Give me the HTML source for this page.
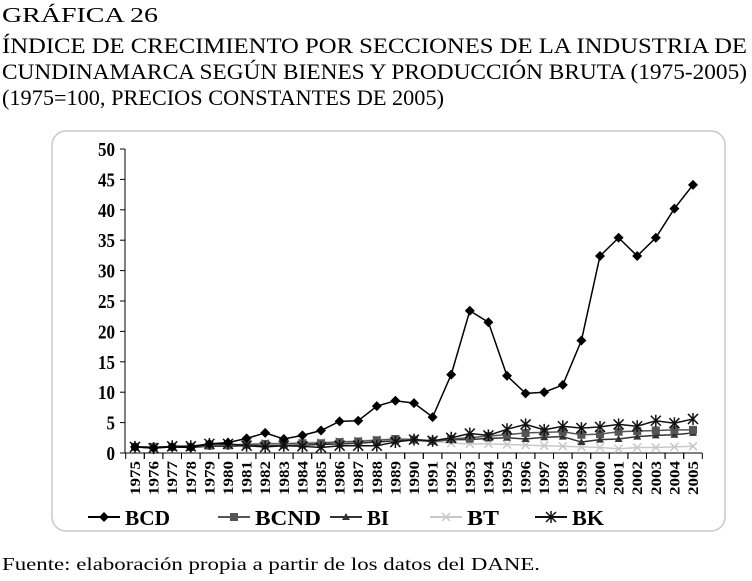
<!DOCTYPE html>
<html><head><meta charset="utf-8"><style>
html,body{margin:0;padding:0;background:#fff;}
svg{display:block;font-family:"Liberation Serif",serif;}
</style></head><body>
<svg id="chart" width="752" height="581" viewBox="0 0 752 581">
<text x="2" y="22" font-size="21" textLength="156" lengthAdjust="spacingAndGlyphs">GRÁFICA 26</text>
<text x="2" y="53" font-size="22" textLength="745" lengthAdjust="spacingAndGlyphs">ÍNDICE DE CRECIMIENTO POR SECCIONES DE LA INDUSTRIA DE</text>
<text x="2" y="79" font-size="22" textLength="745" lengthAdjust="spacingAndGlyphs">CUNDINAMARCA SEGÚN BIENES Y PRODUCCIÓN BRUTA (1975-2005)</text>
<text x="2" y="105" font-size="22" textLength="442" lengthAdjust="spacingAndGlyphs">(1975=100, PRECIOS CONSTANTES DE 2005)</text>
<rect x="52" y="131" width="673" height="400" rx="14" fill="#fff" stroke="#c8c8c8" stroke-width="1.5"/>
<g id="plot"></g>
<text x="2" y="570" font-size="18" textLength="538" lengthAdjust="spacingAndGlyphs">Fuente: elaboración propia a partir de los datos del DANE.</text>
</svg>
<script>
const years = [1975,1976,1977,1978,1979,1980,1981,1982,1983,1984,1985,1986,1987,1988,1989,1990,1991,1992,1993,1994,1995,1996,1997,1998,1999,2000,2001,2002,2003,2004,2005];
const yTicks = [0,5,10,15,20,25,30,35,40,45,50];
const seriesNames = ["BCD","BCND","BI","BT","BK"];
const bcd = [1,0.8,1,0.9,1.5,1.7,2.4,3.3,2.3,2.9,3.7,5.2,5.3,7.7,8.6,8.2,5.9,12.9,23.4,21.5,12.7,9.8,10,11.2,18.5,32.4,35.4,32.4,35.4,40.2,44.1];
const bcnd = [1,1,1,1,1.2,1.3,1.4,1.5,1.5,1.6,1.6,1.8,1.9,2.1,2.3,2.2,2.0,2.3,2.5,2.8,3.0,3.3,3.4,3.5,3.0,3.1,3.5,3.6,3.7,3.8,3.8];
const bi = [1,1,1,0.9,1.1,1.1,1.2,1.2,1.2,1.3,1.4,1.5,1.6,1.8,2.0,2.1,1.9,2.2,2.2,2.4,2.5,2.3,2.6,2.7,1.8,2.2,2.3,2.7,2.9,3.0,3.3];
const bt = [1,1,1.1,1.2,1.3,1.4,1.5,1.6,1.6,1.7,1.8,1.9,2.0,2.2,2.3,2.3,2.0,1.6,1.5,1.5,1.4,1.3,1.2,1.1,1.0,0.9,0.7,0.9,0.9,1.0,1.1];
const bk = [1,0.8,1.1,1.1,1.5,1.5,1.2,1.0,1.2,1.1,0.9,1.2,1.2,1.2,1.8,2.2,2.0,2.5,3.2,2.9,3.9,4.7,3.8,4.4,4.1,4.3,4.7,4.4,5.3,4.9,5.6];

const NS="http://www.w3.org/2000/svg";
const g=document.getElementById('plot');
function el(t,a,p){const e=document.createElementNS(NS,t);for(const k in a)e.setAttribute(k,a[k]);(p||g).appendChild(e);return e;}
const x0=135, dx=18.6, yBase=453, yTop=149;
const xs=i=>x0+i*dx;
const ys=v=>yBase-(v/50)*(yBase-yTop);

const ax=el('line',{x1:x0-10,y1:yTop,x2:x0-10,y2:yBase,stroke:'#000','stroke-width':1});


const bx=el('line',{x1:x0-10,y1:yBase,x2:xs(years.length-1)+9,y2:yBase,stroke:'#000','stroke-width':1});


yTicks.forEach(v=>{
  const t=el('line',{x1:x0-15,y1:ys(v),x2:x0-10,y2:ys(v),stroke:'#000'});
  
  
  const l=el('text',{x:x0-20,y:ys(v)+7,'font-size':20,'font-weight':'bold','text-anchor':'end',transform:`translate(${(x0-20)*0.15},0) scale(0.85,1)`});
  l.textContent=v;
  
  
});
years.forEach((yr,i)=>{
  for(const xx of [xs(i)-dx/2, xs(i)+dx/2]){
    const t=el('line',{x1:xx,y1:yBase,x2:xx,y2:yBase+6,stroke:'#000'});
    
    
  }
  const l=el('text',{x:0,y:0,'font-size':15,'font-weight':'bold','text-anchor':'end',textLength:34,lengthAdjust:'spacingAndGlyphs',transform:`translate(${xs(i)+5},461) rotate(-90)`});
  l.textContent=yr;
  
  
});

function marker(type,x,y,color,parent){
  let m;
  if(type==='diamond') m=el('path',{d:`M${x} ${y-5}L${x+5} ${y}L${x} ${y+5}L${x-5} ${y}Z`,fill:color},parent);
  else if(type==='square') m=el('rect',{x:x-4,y:y-4,width:8,height:8,fill:color},parent);
  else if(type==='triangle') m=el('path',{d:`M${x} ${y-4}L${x+4} ${y+3}L${x-4} ${y+3}Z`,fill:color},parent);
  else if(type==='x') m=el('path',{d:`M${x-4} ${y-4}L${x+4} ${y+4}M${x+4} ${y-4}L${x-4} ${y+4}`,stroke:color,'stroke-width':1.5},parent);
  else m=el('path',{d:`M${x-5} ${y-5}L${x+5} ${y+5}M${x+5} ${y-5}L${x-5} ${y+5}M${x} ${y-6}L${x} ${y+6}`,stroke:color,'stroke-width':1.5},parent);
  
  
}
const defs=[
 {name:'bt',data:bt,color:'#c8c8c8',mk:'x'},
 {name:'bi',data:bi,color:'#333',mk:'triangle'},
 {name:'bcnd',data:bcnd,color:'#555',mk:'square'},
 {name:'bk',data:bk,color:'#111',mk:'star'},
 {name:'bcd',data:bcd,color:'#000',mk:'diamond'}
];
defs.forEach(s=>{
  const sg=el('g',{});
  
  
  const p=el('polyline',{points:s.data.map((v,i)=>xs(i)+','+ys(v)).join(' '),fill:'none',stroke:s.color,'stroke-width':1.5},sg);
  
  
  s.data.forEach((v,i)=>marker(s.mk,xs(i),ys(v),s.color,sg));
});

const legX=[88,218,330,430,535];
const legW=[45,66,22,32,32];
const legCol=['#000','#555','#333','#c8c8c8','#111'];
const legMk=['diamond','square','triangle','x','star'];
seriesNames.forEach((n,i)=>{
  const lg=el('g',{});
  
  
  el('line',{x1:legX[i],y1:517,x2:legX[i]+32,y2:517,stroke:legCol[i],'stroke-width':2},lg);
  marker(legMk[i],legX[i]+16,517,legCol[i],lg);
  const t=el('text',{x:legX[i]+37,y:525,'font-size':21,'font-weight':'bold',textLength:legW[i],lengthAdjust:'spacingAndGlyphs'},lg);
  t.textContent=n;
  
  
});
</script>
</body></html>
